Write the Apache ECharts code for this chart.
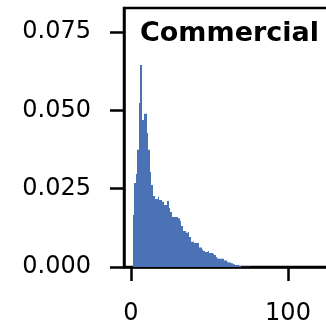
<!DOCTYPE html>
<html>
<head>
<meta charset="utf-8">
<script src="https://cdn.jsdelivr.net/npm/echarts@6/dist/echarts.min.js"></script>
<style>
  html, body { margin: 0; padding: 0; background: #fff; }
  #chart { width: 326px; height: 325px; }
</style>
</head>
<body>
<div id="chart"></div>
<script>
  // histogram: bins of width 1 starting at 1
  var firstEdge = 1;
  var binWidth = 1;
  var density = [
    0.0166, 0.0268, 0.0297, 0.0374, 0.0524, 0.0645, 0.0469, 0.0489, 0.0489, 0.0428,
    0.0374, 0.0303, 0.0262, 0.0227, 0.0217, 0.0217, 0.0224, 0.0214, 0.0214, 0.0208,
    0.0198, 0.0198, 0.0211, 0.0188, 0.0176, 0.0160, 0.0160, 0.0160, 0.0160, 0.0156,
    0.0147, 0.0131, 0.0115, 0.0115, 0.0109, 0.0112, 0.0096, 0.0081, 0.0081, 0.0077,
    0.0077, 0.0077, 0.0062, 0.0062, 0.0056, 0.0051, 0.0048, 0.0048, 0.0051, 0.0045,
    0.0045, 0.0042, 0.0038, 0.0032, 0.0027, 0.0026, 0.0026, 0.0026, 0.0021, 0.0021,
    0.0017, 0.0014, 0.0014, 0.0012, 0.0009, 0.0006, 0.0006, 0.0007, 0.0003, 0.0001,
    0.0001, 0.0001, 0.0001, 0.0001, 0.0001
  ];
  var xTicks = [0, 100];
  var yTicks = [0, 0.025, 0.05, 0.075];
  var panelTitle = 'Commercial';

  var barData = [];
  for (var i = 0; i < density.length; i++) {
    var lo = firstEdge + i * binWidth;
    barData.push([lo, lo + binWidth, density[i]]);
  }

  var chart = echarts.init(document.getElementById('chart'));
  var font = 'DejaVu Sans';
  var barColor = '#4a72b4';
  var option = {
    animation: false,
    title: {
      text: panelTitle,
      right: 2,
      top: 15,
      textStyle: { fontFamily: font, fontSize: 27, fontWeight: 'bold', color: '#000' }
    },
    grid: {
      left: 124, top: 8, width: 220, height: 259,
      outerBoundsMode: 'none', containLabel: false,
      show: true, borderColor: '#000', borderWidth: 2.5, backgroundColor: 'transparent'
    },
    xAxis: {
      type: 'value',
      min: -4.459, max: 135.67,
      splitLine: { show: false },
      axisLine: { onZero: false, lineStyle: { color: '#000', width: 2.5 } },
      axisTick: { customValues: xTicks, length: 14, lineStyle: { color: '#000', width: 2.5 } },
      axisLabel: {
        customValues: xTicks, margin: 35,
        fontFamily: font, fontSize: 24, color: '#000'
      }
    },
    yAxis: {
      type: 'value',
      min: 0, max: 0.0827,
      splitLine: { show: false },
      axisLine: { onZero: false, lineStyle: { color: '#000', width: 2.5 } },
      axisTick: { customValues: yTicks, length: 14, lineStyle: { color: '#000', width: 2.5 } },
      axisLabel: {
        customValues: yTicks, margin: 33,
        fontFamily: font, fontSize: 24, color: '#000',
        formatter: function (v) { return v.toFixed(3); }
      }
    },
    series: [{
      type: 'custom',
      data: barData,
      encode: { x: [0, 1], y: 2 },
      renderItem: function (params, api) {
        var p0 = api.coord([api.value(0), 0]);
        var p1 = api.coord([api.value(1), api.value(2)]);
        // snap the bin edges to whole pixels so neighbouring bars leave no seams
        var x0 = Math.round(p0[0]);
        var x1 = Math.round(p1[0]);
        return {
          type: 'rect',
          shape: { x: x0, y: p1[1], width: x1 - x0, height: p0[1] - p1[1] },
          style: { fill: barColor }
        };
      }
    }]
  };
  chart.setOption(option);
</script>
</body>
</html>
